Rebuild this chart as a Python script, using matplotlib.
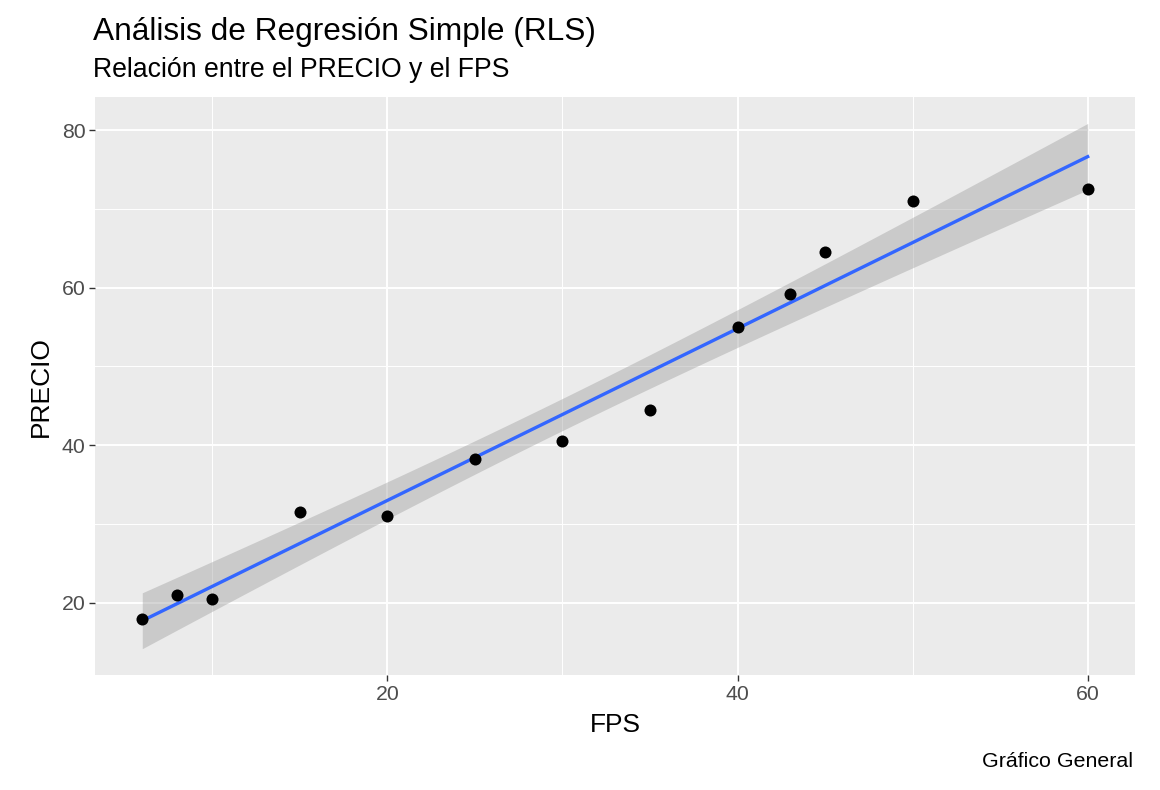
import numpy as np
import matplotlib
matplotlib.use('Agg')
import matplotlib.pyplot as plt
from matplotlib.ticker import MultipleLocator

plt.rcParams['font.family'] = ['Liberation Sans', 'DejaVu Sans']

# Datos
fps = np.array([6, 8, 10, 15, 20, 25, 30, 35, 40, 43, 45, 50, 60])
precio = np.array([18, 21, 20.5, 31.5, 31, 38.2, 40.5, 44.5, 55, 59.2, 64.5, 71, 72.5])

titulo = 'Análisis de Regresión Simple (RLS)'
subtitulo = 'Relación entre el PRECIO y el FPS'
pie = 'Gráfico General'

# Ajuste lineal e intervalo de confianza 95%
n = len(fps)
b1, b0 = np.polyfit(fps, precio, 1)
resid = precio - (b0 + b1 * fps)
s = np.sqrt(np.sum(resid ** 2) / (n - 2))
t_val = 2.201  # t(0.975, df=11)
xs = np.linspace(fps.min(), fps.max(), 80)
ys = b0 + b1 * xs
se = s * np.sqrt(1 / n + (xs - fps.mean()) ** 2 / np.sum((fps - fps.mean()) ** 2))
lo, hi = ys - t_val * se, ys + t_val * se

fig = plt.figure(figsize=(11.6, 7.9), dpi=100)
ax = fig.add_axes([0.0819, 0.1456, 0.8965, 0.7314])
ax.set_facecolor('#EBEBEB')
for sp in ax.spines.values():
    sp.set_visible(False)

ax.fill_between(xs, lo, hi, color='#999999', alpha=0.4, linewidth=0, zorder=2)
ax.plot(xs, ys, color='#3366FF', linewidth=2.4, zorder=3)
ax.scatter(fps, precio, s=75, color='black', zorder=4, linewidths=0)

# límites con expansión tipo ggplot
xr = fps.max() - fps.min()
ax.set_xlim(fps.min() - 0.05 * xr, fps.max() + 0.05 * xr)
ymin, ymax = min(lo.min(), precio.min()), max(hi.max(), precio.max())
yr = ymax - ymin
ax.set_ylim(ymin - 0.05 * yr, ymax + 0.05 * yr)

ax.xaxis.set_major_locator(MultipleLocator(20))
ax.xaxis.set_minor_locator(MultipleLocator(10))
ax.yaxis.set_major_locator(MultipleLocator(20))
ax.yaxis.set_minor_locator(MultipleLocator(10))
ax.grid(which='major', color='white', linewidth=1.4, zorder=0)
ax.grid(which='minor', color='white', linewidth=0.7, zorder=0)
ax.set_axisbelow(True)
ax.tick_params(which='major', length=4, width=1, color='#333333',
               labelsize=15.3, labelcolor='#4D4D4D', pad=3)
ax.tick_params(which='minor', length=0)

ax.set_xlabel('FPS', fontsize=19, color='black', labelpad=7)
ax.set_ylabel('PRECIO', fontsize=19, color='black', labelpad=6)

fig.text(0.080, 0.949, titulo, fontsize=22.8, ha='left', va='baseline')
fig.text(0.080, 0.903, subtitulo, fontsize=19.2, ha='left', va='baseline')
fig.text(0.977, 0.029, pie, fontsize=15.4, ha='right', va='baseline')

fig.savefig('out.png', dpi=100)
